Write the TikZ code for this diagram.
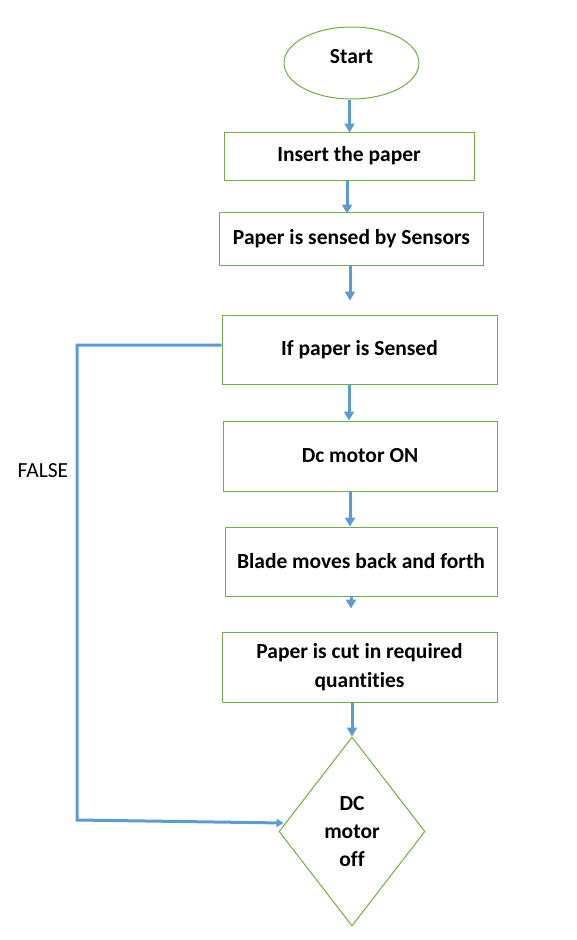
\documentclass[tikz,border=0pt]{standalone}
\usepackage{fontspec}
\setmainfont{Carlito}[Ligatures=NoCommon]
\usepackage{xcolor}
\usepackage{tikz}
\usetikzlibrary{shapes.geometric, arrows.meta}

\definecolor{boxgreen}{HTML}{70AD47}
\definecolor{flowblue}{HTML}{5B9BD5}

\begin{document}
\begin{tikzpicture}[
    x=1pt, y=-1pt,
    stepbox/.style={
        draw=boxgreen,
        line width=1pt,
        rectangle,
        align=center,
        font=\fontsize{21.5}{29}\selectfont\bfseries,
        anchor=center
    },
    flow/.style={
        draw=flowblue,
        line width=3pt,
        -{Triangle[width=10pt,length=9pt]}
    }
]
    \useasboundingbox (0,0) rectangle (577,940);
    \node[stepbox, ellipse, minimum width=135pt, minimum height=72pt, inner sep=0pt] (start) at (351.5,63) {\raisebox{14pt}{Start}};
    \node[stepbox, minimum width=250pt, minimum height=48pt] (insert) at (349,156) {\raisebox{2pt}{Insert the paper}};
    \node[stepbox, minimum width=264pt, minimum height=53pt] (sensed) at (351.5,238.5) {Paper is sensed by Sensors};
    \node[stepbox, minimum width=275pt, minimum height=69pt] (check) at (359.5,349.5) {\raisebox{2pt}{If paper is Sensed}};
    \node[stepbox, minimum width=274pt, minimum height=70pt] (motoron) at (360,456) {\raisebox{2pt}{Dc motor ON}};
    \node[stepbox, minimum width=272pt, minimum height=69pt] (blade) at (361,561.5) {\raisebox{2pt}{Blade moves back and forth}};
    \node[stepbox, minimum width=275pt, minimum height=70pt] (cut) at (359.5,667) {Paper is cut in required\\quantities};
    \node[stepbox, diamond, minimum width=146pt, minimum height=189pt, inner sep=0pt, aspect=0.77,
          font=\fontsize{21.5}{28}\selectfont\bfseries] (motoroff) at (352,831.5) {DC\\motor\\off};
    \node[font=\fontsize{21.5}{24}\selectfont] (false) at (43,471) {FALSE};
    \coordinate (turn1) at (77,345);
    \coordinate (turn2) at (77,820);

    % connectors
    \draw[flow] (start.south) ++(-2,0) -- ++(0,33);
    \draw[flow] (insert.south) ++(-2,0) -- ++(0,33);
    \draw[flow] (sensed.south) ++(-1.5,0) -- ++(0,35);
    \draw[flow] (check.south) ++(-10.5,0) -- ++(0,36);
    \draw[flow] (motoron.south) ++(-10,0) -- ++(0,35);
    \draw[flow] (blade.south) ++(-10,0) -- ++(0,12);
    \draw[flow] (cut.south) ++(-7.5,0) -- (motoroff.north);
    \draw[flow, -{Triangle[width=8pt,length=7pt]}] (check.west |- turn1) -- (turn1) -- (turn2) -- ([shift={(5,-8.5)}]motoroff.west);
\end{tikzpicture}
\end{document}
